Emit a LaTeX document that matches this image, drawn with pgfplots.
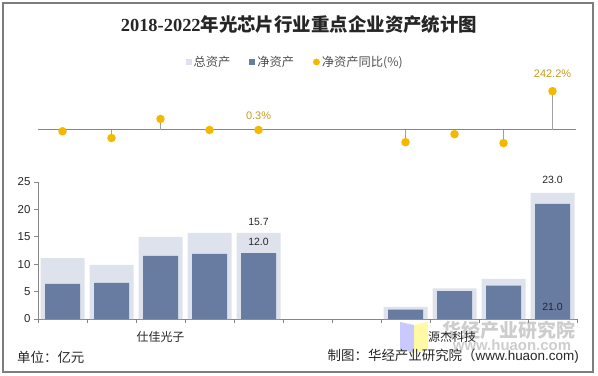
\documentclass[border=0pt]{standalone}
\usepackage{pgfplots}
\pgfplotsset{compat=1.18}
\usepackage{fontspec}
\setmainfont{Liberation Sans}
\newfontfamily\cjk{Noto Sans CJK SC}
\newfontfamily\serifb{Liberation Serif}
\definecolor{totc}{RGB}{221,226,236}
\definecolor{netc}{RGB}{104,123,161}
\definecolor{goldc}{RGB}{245,184,0}
\definecolor{goldt}{RGB}{196,156,30}
\definecolor{axc}{RGB}{134,134,134}
\definecolor{stemc}{RGB}{160,160,160}
\definecolor{txt}{RGB}{38,38,38}
\definecolor{legtxt}{RGB}{80,80,80}
\definecolor{framec}{RGB}{125,125,125}
\definecolor{wmc}{RGB}{205,205,205}

\begin{document}
\begin{tikzpicture}[x=1bp,y=1bp]
\path[use as bounding box] (0,0) rectangle (598,375);
\draw[framec, line width=1.5bp] (3,3) rectangle (593,372);

% watermark
\fill[blue!30!white, opacity=0.7] (400,26) -- (414,22) -- (414,50) -- (400,53) -- cycle;
\fill[yellow!45!white, opacity=0.8] (414,22) -- (428,26) -- (428,53) -- (414,50) -- cycle;
\node[text=wmc, font=\cjk\bfseries\fontsize{19}{20}\selectfont, inner sep=0] at (509,45) {华经产业研究院};
\node[text=wmc, font=\bfseries\fontsize{15}{16}\selectfont, inner sep=0] at (512,30) {www.huaon.com};

% title
\node[text=txt, inner sep=0] at (299,350) {\fontsize{18.5}{20}\selectfont\serifb\bfseries 2018-2022\cjk\bfseries 年光芯片行业重点企业资产统计图};

% bottom bar axis
\begin{axis}[
  at={(38bp,56bp)}, anchor=south west, scale only axis,
  width=539bp, height=137bp,
  xmin=-0.5, xmax=10.5, ymin=0, ymax=25,
  axis x line*=bottom, axis y line*=left,
  axis line style={axc, line width=0.8bp},
  xtick={-0.5,0.5,1.5,2.5,3.5,4.5,5.5,6.5,7.5,8.5,9.5,10.5},
  xticklabels={},
  ytick={0,5,10,15,20,25},
  tick align=outside, major tick length=4bp,
  tick style={axc, line width=0.8bp},
  yticklabel style={font=\fontsize{11.5}{12}\selectfont, text=txt},
  /pgf/number format/assume math mode=true,
  ybar, clip=false,
  legend style={at={(0.477,1.876)}, anchor=center, draw=none, fill=none,
    font=\cjk\fontsize{12.3}{13}\selectfont, text=legtxt,
    /tikz/every even column/.append style={column sep=17bp},
    /tikz/every odd column/.append style={column sep=0bp}},
  legend columns=3, legend cell align=left,
]
\addplot[fill=totc, draw=none, bar width=44bp, bar shift=0pt,
  legend image code/.code={\fill[totc] (0bp,-3bp) rectangle (6bp,3bp);}]
  coordinates {(0,11.1)(1,9.9)(2,15.0)(3,15.7)(4,15.7)(7,2.2)(8,5.6)(9,7.3)(10,23.0)};
\addlegendentry{总资产}
\addplot[fill=netc, draw=none, bar width=35bp, bar shift=0pt,
  legend image code/.code={\fill[netc] (0bp,-3bp) rectangle (6bp,3bp);}]
  coordinates {(0,6.4)(1,6.6)(2,11.5)(3,11.9)(4,12.0)(7,1.7)(8,5.1)(9,6.1)(10,21.0)};
\addlegendentry{净资产}
\addlegendimage{legend image code/.code={\fill[goldc] (3bp,0bp) circle (3.2bp);}}
\addlegendentry{净资产同比(\%)}

\node[font=\fontsize{10.5}{11}\selectfont, text=txt] at (axis cs:4,17.7) {15.7};
\node[font=\fontsize{10.5}{11}\selectfont, text=txt] at (axis cs:4,14.05) {12.0};
\node[font=\fontsize{10.5}{11}\selectfont, text=txt] at (axis cs:10,25.4) {23.0};
\node[font=\fontsize{10.5}{11}\selectfont, text=txt] at (axis cs:10,2.2) {21.0};

\node[font=\cjk\fontsize{12}{13}\selectfont, text=txt] at (axis cs:2,-3.3) {仕佳光子};
\node[font=\cjk\fontsize{12}{13}\selectfont, text=txt] at (axis cs:7.95,-3.3) {源杰科技};
\end{axis}

% top growth axis
\begin{axis}[
  at={(38bp,215bp)}, anchor=south west, scale only axis,
  width=539bp, height=80bp,
  xmin=-0.5, xmax=10.5, ymin=-187.2, ymax=312,
  hide axis, clip=false,
]
\draw[axc, line width=1bp] (axis cs:-0.5,0) -- (axis cs:10.48,0);
\addplot[ycomb, draw=stemc, line width=1.6bp, mark=*, mark size=3.4bp,
  mark options={fill=goldc, draw=goldc}]
  coordinates {(0,-8)(1,-50)(2,69)(3,0)(4,0.3)(7,-76)(8,-26)(9,-82)(10,242.2)};
\node[font=\fontsize{11}{12}\selectfont, text=goldt] at (axis cs:4,87) {0.3\%};
\node[font=\fontsize{11}{12}\selectfont, text=goldt] at (axis cs:10,349) {242.2\%};
\end{axis}

% footer
\node[anchor=west, inner sep=0, text=txt, font=\cjk\fontsize{13.5}{14}\selectfont] at (17,18) {单位：亿元};
\node[anchor=east, inner sep=0, text=txt, font=\fontsize{13.5}{14}\selectfont] at (579,19) {{\cjk 制图：华经产业研究院（}www.huaon.com)};
\end{tikzpicture}
\end{document}
